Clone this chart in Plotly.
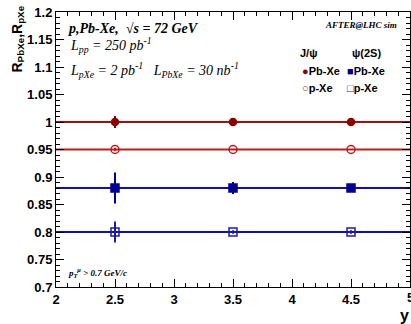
import plotly.graph_objects as go

# ---- data ----
rapidity = [2.5, 3.5, 4.5]
fit_range = [2.0, 5.0]

jpsi_pbxe = [1.0, 1.0, 1.0]
jpsi_pbxe_err = [0.011, 0.002, 0.002]
jpsi_pxe = [0.95, 0.95, 0.95]
jpsi_pxe_err = [0.003, 0.001, 0.001]
psi2s_pbxe = [0.88, 0.88, 0.88]
psi2s_pbxe_err = [0.028, 0.011, 0.005]
psi2s_pxe = [0.80, 0.80, 0.80]
psi2s_pxe_err = [0.019, 0.003, 0.003]

fit_jpsi_pbxe = 1.0
fit_jpsi_pxe = 0.95
fit_psi2s_pbxe = 0.88
fit_psi2s_pxe = 0.80

DARKRED = "#8e0000"
RED = "#b81c1c"
NAVY = "#000090"
BLUE = "#1a1ab0"

fig = go.Figure()

# fit lines
for val, col in [(fit_jpsi_pbxe, "#a01010"), (fit_jpsi_pxe, "#b82020"),
                 (fit_psi2s_pbxe, "#1010b0"), (fit_psi2s_pxe, "#1010b0")]:
    fig.add_trace(go.Scatter(x=fit_range, y=[val, val], mode="lines",
                             line=dict(color=col, width=2), showlegend=False,
                             hoverinfo="skip"))

def pts(y, err, name, symbol, color, size):
    return go.Scatter(
        x=rapidity, y=y, mode="markers", name=name, showlegend=False,
        marker=dict(symbol=symbol, color=color, size=size,
                    line=dict(color=color, width=1.5)),
        error_y=dict(type="data", array=err, visible=True, color=color,
                     thickness=2, width=0),
    )

fig.add_trace(pts(jpsi_pbxe, jpsi_pbxe_err, "J/ψ Pb-Xe", "circle", DARKRED, 7))
fig.add_trace(pts(jpsi_pxe, jpsi_pxe_err, "J/ψ p-Xe", "circle-open", RED, 8))
fig.add_trace(pts(psi2s_pbxe, psi2s_pbxe_err, "ψ(2S) Pb-Xe", "square", NAVY, 8))
fig.add_trace(pts(psi2s_pxe, psi2s_pxe_err, "ψ(2S) p-Xe", "square-open", BLUE, 8))

boldfont = "Liberation Sans, Arial"
tickfont = dict(family=boldfont, size=13, color="black", weight="bold")

axis_common = dict(
    showline=True, linecolor="black", linewidth=1, mirror="allticks",
    ticks="inside", ticklen=8, tickcolor="black", tickwidth=1,
    showgrid=False, zeroline=False, tickfont=tickfont,
)

fig.update_xaxes(range=[2, 5], dtick=0.5, tick0=2,
                 minor=dict(dtick=0.1, ticks="inside", ticklen=4, tickcolor="black"),
                 **axis_common)
fig.update_yaxes(range=[0.7, 1.2], dtick=0.05, tick0=0.7,
                 minor=dict(dtick=0.01, ticks="inside", ticklen=4, tickcolor="black"),
                 **axis_common)

fig.update_layout(
    width=411, height=324,
    margin=dict(l=56, r=1, t=12, b=37, autoexpand=False),
    paper_bgcolor="white", plot_bgcolor="white",
    showlegend=False,
)

def px(xp, yp):
    return (xp - 56) / 354, (287 - yp) / 275

serif = "Liberation Serif, Times New Roman"
ann = [
    dict(text="<b><i>p,Pb-Xe,  √s = 72 GeV</i></b>", x=66, y=28, size=14, xanchor="left", fam=serif),
    dict(text="<i>L<sub>pp</sub> = 250 pb<sup>-1</sup></i>", x=68, y=45, size=14, xanchor="left", fam=serif),
    dict(text="<i>L<sub>pXe</sub> = 2 pb<sup>-1</sup>   L<sub>PbXe</sub> = 30 nb<sup>-1</sup></i>",
         x=68, y=70, size=14, xanchor="left", fam=serif),
    dict(text="<b><i>AFTER@LHC sim</i></b>", x=399, y=25, size=9, xanchor="right", fam=serif),
    dict(text="<b><i>p<sub>T</sub><sup>μ</sup> > 0.7 GeV/c</i></b>", x=66, y=272, size=9, xanchor="left", fam=serif),
    # legend
    dict(text="<b>J/ψ</b>", x=298, y=53, size=11, xanchor="left", fam=boldfont),
    dict(text="<b>ψ(2S)</b>", x=350, y=53, size=11, xanchor="left", fam=boldfont),
    dict(text=f"<span style='color:{DARKRED}'>●</span><b>Pb-Xe</b>", x=300, y=71, size=11, xanchor="left", fam=boldfont),
    dict(text=f"<span style='color:{RED}'>○</span><b>p-Xe</b>", x=300, y=88, size=11, xanchor="left", fam=boldfont),
    dict(text=f"<span style='color:{NAVY}'>■</span><b>Pb-Xe</b>", x=345, y=71, size=11, xanchor="left", fam=boldfont),
    dict(text=f"<span style='color:{BLUE}'>□</span><b>p-Xe</b>", x=345, y=88, size=11, xanchor="left", fam=boldfont),
    # last x tick label, cut by the page edge as in the original
    dict(text="<b>5</b>", x=410, y=297, size=13, xanchor="center", fam=boldfont),
]
for a in ann:
    xx, yy = px(a["x"], a["y"])
    fig.add_annotation(text=a["text"], xref="paper", yref="paper",
                       x=xx, y=yy, xanchor=a["xanchor"], yanchor="middle", showarrow=False,
                       font=dict(family=a["fam"], size=a["size"], color="black"))

xx, yy = px(17, 4)
fig.add_annotation(text="<b>R<sub>PbXe</sub>,R<sub>pXe</sub></b>", xref="paper", yref="paper",
                   x=xx, y=yy, xanchor="center", yanchor="top",
                   textangle=-90, showarrow=False,
                   font=dict(family=boldfont, size=14, color="black"))
xx, yy = px(404, 315)
fig.add_annotation(text="<b>y</b>", xref="paper", yref="paper",
                   x=xx, y=yy, xanchor="center", yanchor="middle",
                   showarrow=False, font=dict(family=boldfont, size=16, color="black"))

fig.write_html("out.html", config={"displayModeBar": False},
               post_script="document.body.style.margin='0';document.body.style.overflow='hidden';")
